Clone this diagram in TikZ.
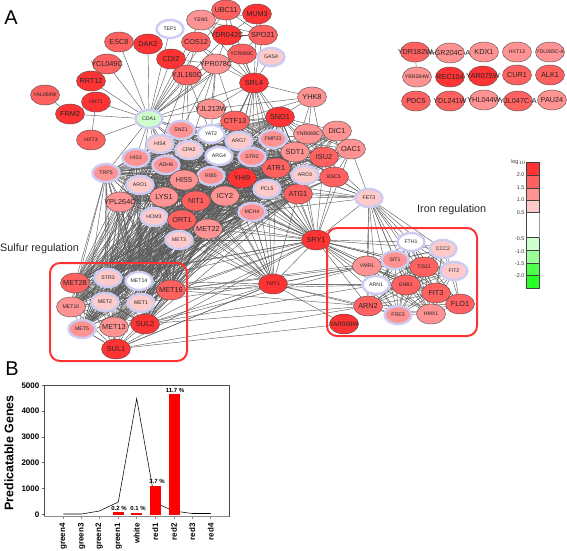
\documentclass[tikz,border=0pt]{standalone}
\usepackage{fontspec}
\setmainfont{Liberation Sans}
\usetikzlibrary{shapes.geometric}
\pgfdeclarelayer{edges}
\pgfsetlayers{edges,main}
\definecolor{ra}{HTML}{FF3333}
\definecolor{rb}{HTML}{FF6060}
\definecolor{rc}{HTML}{FF9292}
\definecolor{rd}{HTML}{FFCACA}
\definecolor{ringc}{HTML}{CCCCF2}
\definecolor{gc}{HTML}{CCFFCC}
\definecolor{edgec}{HTML}{5A5A5A}
\tikzset{
 gene/.style={ellipse,draw=black!70,line width=.4pt,minimum width=29pt,minimum height=20pt,inner sep=0pt,font=\fontsize{7.3}{8}\selectfont,text=black!85},
 tinytext/.style={font=\fontsize{5.2}{6}\selectfont},
 ringed/.style={gene,tinytext,draw=ringc,line width=2.4pt,minimum width=27pt,minimum height=18pt},
 ra/.style={gene,fill=ra},rb/.style={gene,fill=rb},rc/.style={gene,fill=rc},rd/.style={gene,fill=rd},
 Rc/.style={ringed,fill=rc},Rd/.style={ringed,fill=rd},Rw/.style={ringed,fill=white},Rg/.style={ringed,fill=gc},
 edge/.style={draw=edgec,line width=.42pt},
 box/.style={draw=ra,line width=2pt,rounded corners=10pt},
 caption/.style={inner sep=0pt,font=\fontsize{10.8}{12}\selectfont,text=black!85},
 panel/.style={inner sep=0pt,font=\fontsize{20}{22}\selectfont},
 leg/.style={inner sep=0pt,anchor=east,font=\fontsize{5.4}{6}\selectfont,text=black!80},
 axl/.style={inner sep=0pt,font=\bfseries\fontsize{8}{9}\selectfont},
 pct/.style={inner sep=0pt,font=\bfseries\fontsize{6}{7}\selectfont},
}
\newcommand\gn[4]{\node[#1] (#2) at (#3,#4) {\makebox[0pt]{#2}};}
\newcommand\fan[2]{\foreach \pa in {#1}{\foreach \pb in {#2}{\draw[edge] (\pa)--(\pb);}}}
\newcommand\clq[1]{\foreach \pa [count=\ci] in {#1}{\foreach \pb [count=\cj] in {#1}{\ifnum\ci<\cj \draw[edge] (\pa)--(\pb);\fi}}}
\begin{document}
\begin{tikzpicture}[x=1pt,y=-1pt]
\useasboundingbox (0,0) rectangle (567,550);
% upper satellite genes
\gn{Rw}{TEP1}{170}{29}
\gn{rb}{ESC8}{119}{42}
\gn{ra}{DAK2}{148}{44}
\gn{ra}{CDI2}{171}{59}
\gn{rb}{YCL049C}{107}{64}
\gn{ra}{RRT12}{91}{81}
\gn{rb}{YJL160C}{187}{75}
\gn{rb,tinytext}{YAL064W}{45}{95}
\gn{ra,tinytext}{HXT1}{96}{102}
\gn{ra}{FRM2}{70}{114}
\gn{rb,tinytext}{HXT3}{91}{140}
\gn{Rg}{CDA1}{149}{119}
\gn{rb}{UBC11}{226}{10}
\gn{ra}{MUM3}{257}{14}
\gn{rc,tinytext}{YSW1}{201}{20}
\gn{rb}{COS12}{196}{42}
\gn{ra}{YDR042C}{227}{35}
\gn{rb}{SPO21}{263}{35}
\gn{rb,tinytext}{YCR099C}{242}{54}
\gn{Rd}{GAS4}{271}{57}
\gn{rc}{YPR078C}{216}{64}
\gn{ra}{SRL4}{254}{83}
\gn{rc}{YHK8}{312}{97}
\gn{rc}{YJL213W}{211}{109}
\gn{rb}{CTF13}{235}{121}
\gn{ra}{SNO1}{280}{117}
\gn{rc}{DIC1}{337}{131}
\gn{rc,tinytext}{YNR069C}{308}{134}
\gn{rc}{OAC1}{351}{149}
\gn{rc}{SDT1}{295}{152}
\gn{rb}{ISU2}{324}{157}
\gn{rb,tinytext}{BSC5}{334}{177}
\gn{rb}{ATR1}{276}{168}
\gn{rb}{ATG1}{298}{194}
\gn{Rd}{ARO3}{305}{175}
\gn{Rd}{FET3}{369}{198}
% central genes
\gn{Rc}{SNZ1}{181}{130}
\gn{Rd}{HIS4}{160}{144}
\gn{Rd}{CPA2}{189}{150}
\gn{Rc}{HIS3}{136}{158}
\gn{Rc}{ADH6}{166}{165}
\gn{Rc}{TRP5}{106}{173}
\gn{Rw}{YAT2}{211}{134}
\gn{Rd}{ARG7}{239}{141}
\gn{Rw}{ARG4}{219}{156}
\gn{Rc}{STR2}{252}{157}
\gn{Rc}{FMP23}{273}{139}
\gn{Rc}{RIB5}{211}{176}
\gn{ra}{YHI9}{242}{178}
\gn{rc}{HIS5}{184}{180}
\gn{Rd}{ARO1}{140}{185}
\gn{rc}{YPL264C}{120}{202}
\gn{rc}{LYS1}{164}{197}
\gn{rb}{NIT1}{196}{201}
\gn{rc}{ICY2}{225}{196}
\gn{Rd}{PCL5}{267}{189}
\gn{Rc}{MCH4}{252}{212}
\gn{Rd}{HOM3}{154}{217}
\gn{rb}{ORT1}{182}{220}
\gn{rc}{MET22}{208}{229}
\gn{Rd}{MET3}{179}{240}
\gn{ra}{SRY1}{316}{240}
\gn{ra,tinytext}{TMT1}{273}{284}
% sulfur
\gn{Rd}{STR3}{108}{278}
\gn{rb}{MET28}{75}{283}
\gn{Rw}{MET14}{139}{281}
\gn{rb}{MET16}{171}{290}
\gn{rc,tinytext}{MET10}{71}{307}
\gn{Rd}{MET2}{105}{302}
\gn{Rd}{MET1}{141}{303}
\gn{Rc}{MET5}{82}{329}
\gn{rc}{MET13}{114}{327}
\gn{ra}{SUL2}{145}{324}
\gn{ra}{SUL1}{116}{349}
% iron
\gn{Rw}{FTH1}{411}{242}
\gn{Rd}{CCC2}{443}{249}
\gn{Rc}{SIT1}{395}{260}
\gn{rc,tinytext}{VMR1}{367}{266}
\gn{rb,tinytext}{TIS11}{424}{267}
\gn{Rd}{FIT2}{454}{271}
\gn{Rw}{ARN1}{376}{285}
\gn{rb,tinytext}{ENB1}{406}{285}
\gn{rb}{FIT3}{436}{293}
\gn{rb}{FLO1}{460}{304}
\gn{rb}{ARN2}{368}{306}
\gn{Rc}{FRE3}{398}{315}
\gn{rc,tinytext}{HMX1}{431}{314}
\gn{ra,font=\fontsize{6.4}{7}\selectfont}{YAR068W}{344}{324}
% unconnected grid
\gn{rb}{YDR182W}{415}{52}
\node[rc] (AGR) at (450,53) {\makebox[0pt]{AGR204C-A}};
\gn{rc}{KDX1}{484}{52}
\gn{rc,tinytext}{HXT13}{517}{52}
\node[rc,tinytext] (YDL085) at (550,52) {\makebox[0pt]{YDL085C-A}};
\gn{rc,tinytext}{YBR284W}{417}{77}
\gn{ra}{REC104}{450}{77}
\gn{ra}{YAR075W}{483}{76}
\gn{rb}{CUR1}{517}{75}
\gn{rb}{ALK1}{550}{75}
\gn{rb}{PDC5}{416}{101}
\gn{rb}{YDL241W}{450}{101}
\gn{rc}{YHL044W}{484}{100}
\node[rb] (YJL047) at (518,101) {\makebox[0pt]{YJL047C-A}};
\gn{rc}{PAU24}{552}{100}
% edges
\begin{pgfonlayer}{edges}
\draw[edge] (YDR182W)--(YBR284W);
\draw[edge] (YDR182W)--(AGR);
\fan{CDA1}{ESC8,DAK2,CDI2,YCL049C,RRT12,TEP1,YJL160C,COS12,YSW1,YPR078C,HXT1,FRM2,HXT3,YDR042C,UBC11,SRL4,YCR099C,YJL213W,SPO21}
\draw[edge] (FRM2)--(YAL064W);
\draw[edge] (HXT1)--(FRM2);
\draw[edge] (HXT1)--(HXT3);
\clq{UBC11,MUM3,YSW1,YDR042C,SPO21}
\fan{SRL4}{UBC11,MUM3,YDR042C,SPO21,YCR099C,GAS4,YPR078C,COS12,YSW1,YJL213W,CTF13,SNO1,ARG7,FMP23,STR2,YHI9,ATR1,PCL5,ICY2,RIB5,ARG4,SDT1}
\fan{YPR078C}{YDR042C,COS12,YCR099C,YJL160C,YJL213W,CTF13,SNZ1,CDI2,YAT2,CPA2}
\fan{YJL160C}{COS12,SNZ1,HIS4,CPA2,YAT2}
\fan{YHK8}{YJL213W,CTF13,SRL4,SNO1,YNR069C,SDT1,ISU2}
\fan{CDA1}{SNZ1,HIS4,CPA2,HIS3,ADH6,YAT2,ARG7,TRP5,ARO1,HIS5,LYS1,RIB5}
\clq{SNZ1,HIS4,CPA2,HIS3,ADH6,TRP5,YAT2,ARG7,ARG4,STR2,FMP23,RIB5,YHI9,HIS5,ARO1,YPL264C,LYS1,NIT1,ICY2,PCL5,MCH4,HOM3,ORT1,MET22,MET3,ATR1,ARO3,ATG1,SDT1,CTF13,SNO1}
\clq{SDT1,ISU2,DIC1,OAC1,YNR069C,BSC5,ARO3,ATG1,SNO1,FMP23}
\fan{DIC1,OAC1,ISU2,BSC5,YNR069C}{ATR1,STR2,PCL5,YHI9,MCH4,ICY2,MET22}
\fan{STR3,MET28,MET14,MET10,MET2,MET1,MET16,SUL2,MET13,MET5}{HIS3,ADH6,TRP5,ARO1,HIS5,YPL264C,LYS1,NIT1,ICY2,HOM3,ORT1,MET22,MET3,MCH4,RIB5,CPA2,HIS4,STR2,PCL5,YHI9,ARG4,ATR1,ATG1}
\clq{STR3,MET28,MET14,MET16,MET10,MET2,MET1,MET5,MET13,SUL2,SUL1}
\fan{SRY1}{SNZ1,CPA2,ARG4,ARG7,STR2,FMP23,RIB5,YHI9,HIS5,LYS1,NIT1,ICY2,PCL5,MCH4,ORT1,MET22,MET3,ATR1,ARO3,ATG1,SDT1,ISU2,BSC5,OAC1,FET3,MET16,SUL2,TMT1,FTH1,CCC2,SIT1,VMR1,TIS11,FIT2,ARN1,ENB1,FIT3,ARN2,HMX1,FRE3,MET28,STR3,MET14,MET1}
\fan{TMT1}{RIB5,YHI9,HIS5,LYS1,NIT1,ICY2,PCL5,MCH4,ORT1,MET22,MET3,ATR1,ATG1,ARG4,STR2,HOM3,MET16,SUL2,SUL1,MET1,VMR1,SIT1,ARN1,ARN2,ENB1,YAR068W,FRE3,MET14}
\clq{FTH1,CCC2,SIT1,VMR1,TIS11,FIT2,ARN1,ENB1,FIT3,ARN2,FRE3,HMX1,FLO1}
\fan{FET3}{OAC1,ISU2,BSC5,ARO3,ATG1,SDT1,PCL5,STR2,YHI9,ICY2,MCH4,FTH1,CCC2,SIT1,VMR1,TIS11,FIT2,ARN1,ENB1,FIT3,ARN2,FRE3,HMX1}
\fan{MET16}{VMR1,SIT1,ARN1,ARN2,ICY2}
\fan{SUL2}{VMR1,ARN2,ARN1}
\fan{SUL1}{ARN2,YAR068W,TMT1,SRY1}
\draw[edge] (MET13)--(SUL1);
\draw[edge] (MET5)--(SUL1);
\end{pgfonlayer}
% red boxes
\draw[box] (50,263) rectangle (187,361);
\draw[box] (327,228) rectangle (477,336);
% captions
\node[panel,anchor=center] (lblA) at (11,18) {A};
\node[panel,anchor=center] (lblB) at (12,369) {B};
\node[caption,anchor=west] (sulf) at (0,249) {Sulfur regulation};
\node[caption,anchor=west] (iron) at (417,210) {Iron regulation};
% legend
\foreach \ya/\yb/\c in {162.3/175/ra,175/188/rb,188/200.3/rc,200.3/212.7/rd,212.7/237.7/white,237.7/250.3/gc,250.3/263/green!40!white,263/275.7/green!70!white,275.7/288.3/green!85!white}
  {\draw[fill=\c,draw=black!75,line width=.5pt] (526.3,\ya) rectangle (539,\yb);}
\draw[draw=black!40,line width=.8pt] (539,212.7) -- (539,237.7);
\foreach \t/\yy in {2.0/175,1.5/188,1.0/200,0.5/213,-0.5/239,-1.0/252,-1.5/264,-2.0/276}
  {\node[leg] at (524.5,\yy) {\t};}
\node[leg] at (526,162) {log$_{10}$};
% chart
\draw[black!70,line width=.6pt] (44,516.7) -- (44,385.3) -- (229,385.3) -- (229,516.7);
\draw[black!45,line width=.6pt] (44,516.7) -- (229,516.7);
\foreach \v/\yy in {5000/385.3,4000/411.1,3000/436.9,2000/462.7,1000/488.5,0/514.3}
  {\draw[black!60,line width=.5pt] (41.5,\yy) -- (44,\yy);
   \node[axl,anchor=east] at (39.5,\yy) {\v};}
\foreach \xx/\t in {63.3/green4,81.7/green3,99.3/green2,118.3/green1,136.7/white,155.3/red1,174/red2,192.3/red3,210.7/red4}
  {\draw[black!45,line width=.5pt] (\xx,516.7) -- (\xx,519);
   \node[axl,rotate=90,anchor=east] at (\xx,523) {\t};}
\draw[black,line width=.55pt] (63.3,514) -- (81.7,514) -- (99.3,511) -- (118.3,502) -- (136.7,398.5) -- (155.3,503) -- (174,511) -- (192.3,513.5) -- (210.7,513.5);
\foreach \xx/\yy in {118.3/512.3,136.7/513,155.3/486.3,174/394.3}
  {\fill[red] (\xx-5.5,\yy) rectangle (\xx+5.5,514.8);}
\node[pct] at (119,508) {0.2 \%};
\node[pct] at (138,508) {0.1 \%};
\node[pct] at (157,481) {3.7 \%};
\node[pct] at (175,390.5) {11.7 \%};
\node[inner sep=0pt,rotate=90,font=\bfseries\fontsize{12.4}{14}\selectfont] at (9,453) {Predicatable Genes};
\end{tikzpicture}
\end{document}
